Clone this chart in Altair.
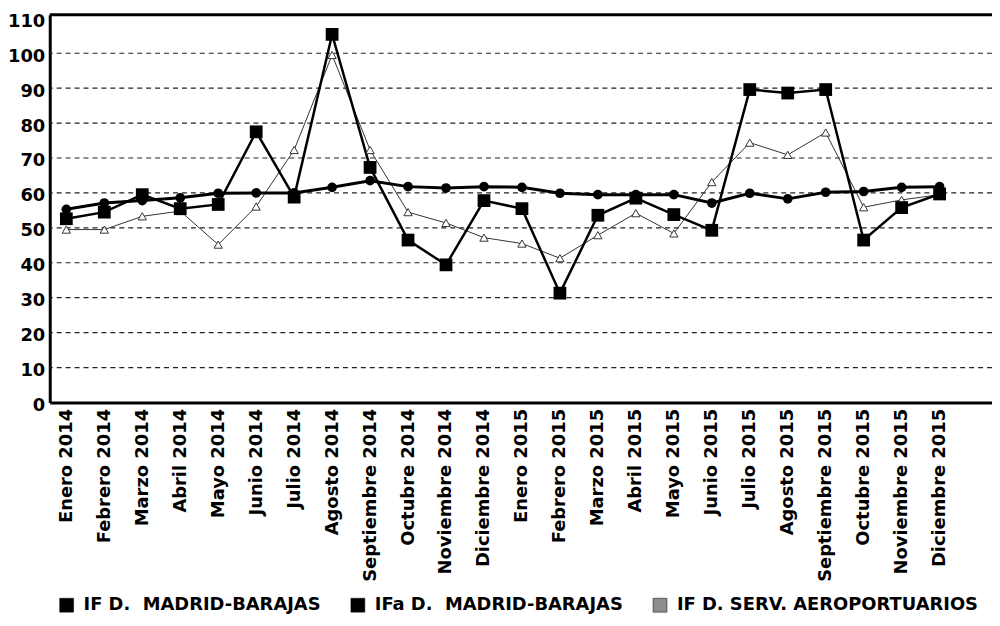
import altair as alt
import pandas as pd

months = ["Enero 2014", "Febrero 2014", "Marzo 2014", "Abril 2014", "Mayo 2014",
          "Junio 2014", "Julio 2014", "Agosto 2014", "Septiembre 2014",
          "Octubre 2014", "Noviembre 2014", "Diciembre 2014",
          "Enero 2015", "Febrero 2015", "Marzo 2015", "Abril 2015", "Mayo 2015",
          "Junio 2015", "Julio 2015", "Agosto 2015", "Septiembre 2015",
          "Octubre 2015", "Noviembre 2015", "Diciembre 2015"]

series_names = ["IF D.\u00a0 MADRID-BARAJAS", "IFa D.\u00a0 MADRID-BARAJAS",
                "IF D. SERV. AEROPORTUARIOS"]

if_madrid = [55.3, 57.1, 57.8, 58.6, 59.9, 60.0, 60.0, 61.6, 63.5, 61.8, 61.4, 61.8,
             61.6, 59.9, 59.5, 59.5, 59.5, 57.1, 59.9, 58.3, 60.2, 60.4, 61.6, 61.8]
ifa_madrid = [52.6, 54.5, 59.5, 55.5, 56.7, 77.5, 58.8, 105.4, 67.3, 46.5, 39.4, 57.8,
              55.5, 31.3, 53.6, 58.5, 53.8, 49.3, 89.6, 88.6, 89.6, 46.5, 55.8, 59.7]
if_serv = [49.5, 49.5, 53.3, 54.8, 45.2, 56.1, 72.3, 99.5, 72.3, 54.5, 51.4, 47.2,
           45.5, 41.3, 47.9, 54.2, 48.4, 63.1, 74.4, 70.9, 77.3, 55.9, 58.0, 59.5]

y_ticks = list(range(0, 111, 10))
grid_values = list(range(10, 101, 10))

rows = []
for name, vals in zip(series_names, [if_madrid, ifa_madrid, if_serv]):
    for i, v in enumerate(vals):
        rows.append({"idx": i, "mes": months[i], "series": name, "value": v})
df = pd.DataFrame(rows)

FONT = "DejaVu Sans"
label_expr = "[" + ",".join("'" + m + "'" for m in months) + "][datum.value]"

x_enc = alt.X("idx:Q",
              scale=alt.Scale(domain=[-0.437, 24.38], nice=False, zero=False),
              axis=alt.Axis(values=list(range(len(months))), labelExpr=label_expr,
                            labelAngle=270, labelFont=FONT, labelFontSize=18,
                            labelFontWeight="bold", labelColor="black",
                            ticks=False, grid=False, domainColor="black",
                            domainWidth=3, labelPadding=6, title=None,
                            labelOverlap=False, labelFlush=False, labelLimit=300))
y_enc = alt.Y("value:Q",
              scale=alt.Scale(domain=[0, 111], nice=False),
              axis=alt.Axis(values=y_ticks, grid=False, ticks=False,
                            domainColor="black", domainWidth=3,
                            labelFont=FONT, labelFontSize=18, labelFontWeight="bold",
                            labelColor="black", labelPadding=5, labelOffset=3,
                            labelOverlap=False, title=None))

base = alt.Chart(df)

grid = alt.Chart(pd.DataFrame({"value": grid_values})).mark_rule(
    color="#222222", strokeWidth=1.2, strokeDash=[5, 4]
).encode(y=y_enc)

top_frame = alt.Chart(pd.DataFrame({"value": [111]})).mark_rule(
    color="black", strokeWidth=3
).encode(y=y_enc)

f_serv = alt.datum.series == series_names[2]
f_if = alt.datum.series == series_names[0]
f_ifa = alt.datum.series == series_names[1]

line_serv = base.transform_filter(f_serv).mark_line(color="#333333", strokeWidth=1).encode(x=x_enc, y=y_enc)
line_if = base.transform_filter(f_if).mark_line(color="black", strokeWidth=3).encode(x=x_enc, y=y_enc)
line_ifa = base.transform_filter(f_ifa).mark_line(color="black", strokeWidth=2.5).encode(x=x_enc, y=y_enc)

pts_serv = base.transform_filter(f_serv).mark_point(
    shape="triangle-up", filled=True, fill="white", stroke="#333333",
    strokeWidth=1, size=70, opacity=1
).encode(x=x_enc, y=y_enc)
pts_if = base.transform_filter(f_if).mark_circle(color="black", size=95, opacity=1).encode(x=x_enc, y=y_enc)
pts_ifa = base.transform_filter(f_ifa).mark_square(size=165, opacity=1).encode(
    x=x_enc, y=y_enc,
    fill=alt.Fill("series:N",
                  scale=alt.Scale(domain=series_names,
                                  range=["black", "black", "#8c8c8c"]),
                  legend=alt.Legend(orient="none", legendX=8, legendY=585,
                                    direction="horizontal", title=None,
                                    symbolType="square", symbolSize=196,
                                    symbolStrokeColor="black", symbolStrokeWidth=0.5,
                                    labelFont=FONT, labelFontSize=18,
                                    labelFontWeight="bold", labelColor="black",
                                    labelOffset=8, columnPadding=28,
                                    labelLimit=400)),
)

chart = alt.layer(
    grid, top_frame, line_serv, line_if, line_ifa, pts_serv, pts_if, pts_ifa
).properties(
    width=948, height=390,
    padding={"left": 42, "top": 5, "right": 0, "bottom": 215},
    autosize=alt.AutoSizeParams(type="none"),
    background="white",
).configure_view(stroke=None)

chart.save("out.html", embed_options={"renderer": "svg", "actions": False})
